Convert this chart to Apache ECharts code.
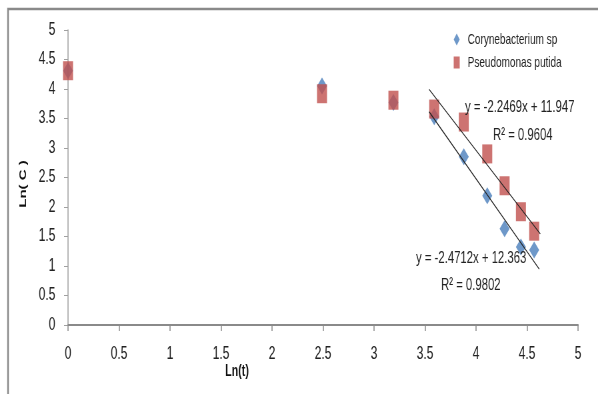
<!DOCTYPE html>
<html><head><meta charset="utf-8">
<script src="https://cdn.jsdelivr.net/npm/echarts@6/dist/echarts.min.js"></script>
<style>
html,body{margin:0;padding:0;background:#fff;overflow:hidden;width:598px;height:394px}
#c{width:897px;height:394px;transform:scaleX(0.666667);transform-origin:0 0}
</style>
</head><body><div id="c"></div>
<script>
var seriesNames = ['Corynebacterium sp', 'Pseudomonas putida'];
var xTicks = [0, 0.5, 1, 1.5, 2, 2.5, 3, 3.5, 4, 4.5, 5];
var yTicks = [0, 0.5, 1, 1.5, 2, 2.5, 3, 3.5, 4, 4.5, 5];
var lnT = [0, 2.49, 3.19, 3.59, 3.88, 4.11, 4.28, 4.44, 4.57];
var coryne = [4.31, 4.05, 3.77, 3.53, 2.85, 2.19, 1.63, 1.32, 1.27];
var pseudo = [4.31, 3.92, 3.81, 3.66, 3.44, 2.90, 2.36, 1.92, 1.59];
// Trendlines (Excel linear fits) as printed on the chart
var coryneFit = {slope: -2.4712, intercept: 12.363, x0: 3.54, x1: 4.62, eq: 'y = -2.4712x + 12.363', r2: 'R² = 0.9802'};
var pseudoFit = {slope: -2.2469, intercept: 11.947, x0: 3.54, x1: 4.63, eq: 'y = -2.2469x + 11.947', r2: 'R² = 0.9604'};

function pts(xs, ys){ return xs.map(function(x,i){ return [x, ys[i]]; }); }
function fitLine(f){ return [[f.x0, f.slope*f.x0+f.intercept],[f.x1, f.slope*f.x1+f.intercept]]; }

// The whole chart is drawn 1.5x wider and squeezed horizontally by CSS,
// reproducing the reference's condensed look.
var SX = 1.5;
var FONT = '"Liberation Sans", Arial, sans-serif';
var blue = '#4A7EBB', red = '#C0504D';
var chart = echarts.init(document.getElementById('c'), null, {renderer:'canvas'});
chart.setOption({
  animation: false,
  backgroundColor: '#fff',
  textStyle: {fontFamily: FONT},
  grid: {left: 68*SX, right: 20*SX, top: 30, bottom: 69},
  legend: {
    orient: 'vertical', left: 449*SX + 2, top: 27, itemWidth: 9, itemHeight: 12, itemGap: 8,
    textStyle: {fontFamily: FONT, fontSize: 15, color: '#222', padding: [0,0,0,7]},
    data: [
      {name: seriesNames[0], icon: 'diamond', itemStyle: {color: blue}},
      {name: seriesNames[1], icon: 'rect', itemStyle: {color: red}}
    ]
  },
  xAxis: {
    type: 'value', min: 0, max: 5, interval: 0.5,
    axisLine: {lineStyle: {color: '#8a8a8a', width: 2}},
    axisTick: {show: true, length: 6, lineStyle: {color: '#8a8a8a', width: 1.5}},
    axisLabel: {fontFamily: FONT, fontSize: 18, color: '#222', margin: 20,
      formatter: function(v){ return String(v); }},
    splitLine: {show: false}
  },
  yAxis: {
    type: 'value', min: 0, max: 5, interval: 0.5,
    axisLine: {show: true, lineStyle: {color: '#a0a0a0', width: 1.5}},
    axisTick: {show: true, length: 6, lineStyle: {color: '#a0a0a0'}},
    axisLabel: {fontFamily: FONT, fontSize: 18, color: '#222', margin: 19,
      formatter: function(v){ return String(v); }},
    splitLine: {show: false}
  },
  series: [
    {name: seriesNames[0], type: 'scatter', symbol: 'diamond', symbolSize: [15,17],
     itemStyle: {color: blue}, data: pts(lnT, coryne), z: 3},
    {name: seriesNames[1], type: 'scatter', symbol: 'rect', symbolSize: [15,19],
     itemStyle: {color: red}, data: pts(lnT, pseudo), z: 4},
    {name: 'fit1', type: 'line', data: fitLine(coryneFit), symbol: 'none',
     lineStyle: {color: '#222', width: 1.2}, z: 5, silent: true},
    {name: 'fit2', type: 'line', data: fitLine(pseudoFit), symbol: 'none',
     lineStyle: {color: '#222', width: 1.2}, z: 5, silent: true}
  ],
  graphic: [
    {type: 'rect', shape: {x: 8*SX, y: 9, width: 1000, height: 420}, style: {fill: 'none', stroke: '#8a8a8a', lineWidth: 2.5}, silent: true},
    {type: 'text', x: 237*SX, y: 372, style: {text: 'Ln(t)', font: 'bold 16px ' + FONT, fill: '#111', align: 'center', verticalAlign: 'middle'}},
    {type: 'text', x: 23*SX, y: 184, rotation: Math.PI/2, style: {text: 'Ln( C )', font: 'bold 15px ' + FONT, fill: '#111', align: 'center', verticalAlign: 'middle'}},
    {type: 'text', x: 465*SX, y: 99, style: {text: pseudoFit.eq, font: '17px ' + FONT, fill: '#222'}, z: 10},
    {type: 'text', x: 493*SX, y: 127, style: {text: pseudoFit.r2, font: '17px ' + FONT, fill: '#222'}, z: 10},
    {type: 'text', x: 416*SX, y: 250, style: {text: coryneFit.eq, font: '17px ' + FONT, fill: '#222'}, z: 10},
    {type: 'text', x: 441*SX, y: 277, style: {text: coryneFit.r2, font: '17px ' + FONT, fill: '#222'}, z: 10}
  ]
});
</script></body></html>
